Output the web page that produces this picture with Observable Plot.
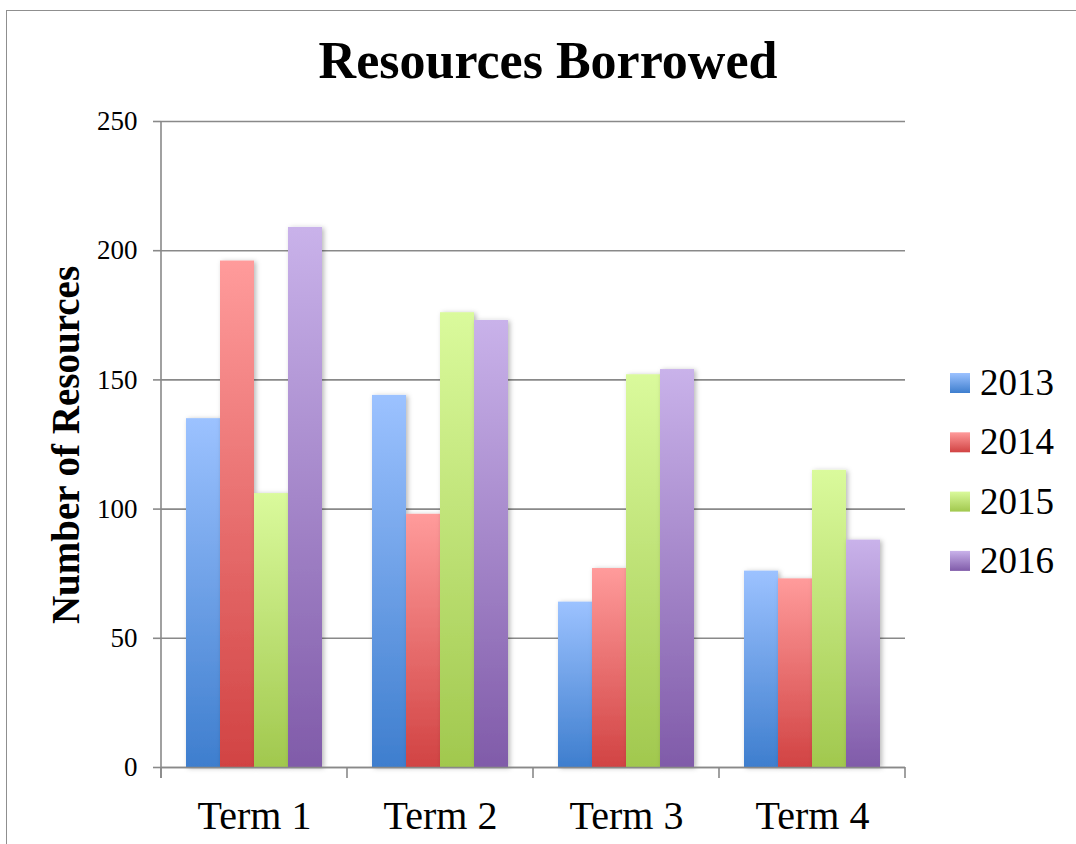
<!DOCTYPE html>
<html><head><meta charset="utf-8">
<script src="https://cdn.jsdelivr.net/npm/d3@7"></script>
<script src="https://cdn.jsdelivr.net/npm/@observablehq/plot@0.6"></script>
<style>
html,body{margin:0;padding:0;background:#fff;}
#wrap{position:relative;width:1076px;height:844px;overflow:hidden;}
#border{position:absolute;left:6px;top:10px;width:1200px;height:1000px;border:1.5px solid #8f8f8f;box-sizing:border-box;}
#wrap svg{position:absolute;left:0;top:0;}
</style></head><body><div id="wrap"><div id="border"></div></div>
<script>
const terms = ["Term 1", "Term 2", "Term 3", "Term 4"];
const years = ["2013", "2014", "2015", "2016"];
const v2013 = [135, 144, 64, 76];
const v2014 = [196, 98, 77, 73];
const v2015 = [106, 176, 152, 115];
const v2016 = [209, 173, 154, 88];
const yTicks = [0, 50, 100, 150, 200, 250];
const titleText = "Resources Borrowed";
const yLabelText = "Number of Resources";

const topColors = {"2013": "#9cc2ff", "2014": "#ff9b9b", "2015": "#dafa9c", "2016": "#c9b2ea"};
const bottomColors = {"2013": "#3e7ece", "2014": "#d14343", "2015": "#a1c84e", "2016": "#805ba9"};

const series = [v2013, v2014, v2015, v2016];
const data = years.flatMap((yr, i) => terms.map((t, j) => ({term: t, year: yr, value: series[i][j]})));

const FONT = "'Liberation Serif', 'Times New Roman', serif";
const GRAY = "#898989";

const chart = Plot.plot({
  width: 1076, height: 844,
  marginLeft: 160, marginRight: 171, marginTop: 121, marginBottom: 77,
  style: {fontFamily: FONT, background: "transparent", overflow: "visible", color: "black"},
  fx: {domain: terms, paddingInner: 0, paddingOuter: 0, label: null},
  x: {domain: years, paddingInner: 0, paddingOuter: 0.68, axis: null},
  y: {domain: [0, 250]},
  color: {type: "identity"},
  marks: [
    Plot.gridY(yTicks, {stroke: GRAY, strokeOpacity: 1, strokeWidth: 1.6}),
    Plot.barY(data, {fx: "term", x: "year", y: "value", insetLeft: 0, insetRight: 0, fill: d => `url(#grad-${d.year})`}),
    Plot.ruleY([0], {stroke: GRAY, strokeWidth: 1.6}),
    Plot.axisY({ticks: yTicks, tickSize: 8, tickPadding: 16, fontSize: 27, stroke: GRAY, strokeWidth: 1.6, fill: "black", label: null}),
    Plot.axisFx({anchor: "bottom", tickSize: 0, tickPadding: 33, fontSize: 40, label: null, fill: "black"})
  ]
});

document.getElementById("wrap").appendChild(chart);

const svg = d3.select(chart);
const defs = svg.insert("defs", ":first-child");
years.forEach(yr => {
  const g = defs.append("linearGradient").attr("id", `grad-${yr}`)
    .attr("x1", 0).attr("y1", 0).attr("x2", 0).attr("y2", 1);
  g.append("stop").attr("offset", "0%").attr("stop-color", topColors[yr]);
  g.append("stop").attr("offset", "100%").attr("stop-color", bottomColors[yr]);
});
const f = defs.append("filter").attr("id", "shadow").attr("x", "-20%").attr("y", "-5%").attr("width", "150%").attr("height", "115%");
f.append("feDropShadow").attr("dx", 2).attr("dy", 1).attr("stdDeviation", 2.5)
  .attr("flood-color", "#000").attr("flood-opacity", 0.28);
svg.selectAll("g[aria-label='bar'] rect").attr("filter", "url(#shadow)");

// axis line and category boundary ticks from the library's scales
const fx = chart.scale("fx"), y = chart.scale("y");
const bounds = terms.map(t => fx.apply(t)).concat([fx.apply(terms[terms.length - 1]) + fx.bandwidth]);
const y0 = y.apply(0), yTop = y.apply(d3.max(yTicks));
const ax = svg.append("g").attr("stroke", GRAY).attr("stroke-width", 1.6);
ax.append("line").attr("x1", bounds[0]).attr("x2", bounds[0]).attr("y1", yTop).attr("y2", y0 + 11);
bounds.forEach(b => ax.append("line").attr("x1", b).attr("x2", b).attr("y1", y0).attr("y2", y0 + 11));

// title
svg.append("text").attr("x", 548).attr("y", 78).attr("text-anchor", "middle")
  .attr("font-family", FONT).attr("font-weight", "bold").attr("font-size", 52).attr("fill", "black")
  .text(titleText);
// y label
svg.append("text").attr("transform", "translate(79,445) rotate(-90)").attr("text-anchor", "middle")
  .attr("font-family", FONT).attr("font-weight", "bold").attr("font-size", 39).attr("fill", "black")
  .text(yLabelText);
// legend
const lg = svg.append("g").attr("font-family", FONT).attr("font-size", 37).attr("fill", "black").attr("text-anchor", "start");
years.forEach((yr, i) => {
  lg.append("rect").attr("x", 950).attr("y", 373 + i * 59.3).attr("width", 20).attr("height", 20)
    .attr("fill", `url(#grad-${yr})`);
  lg.append("text").attr("x", 980).attr("y", 395 + i * 59.3).text(yr);
});
</script></body></html>
